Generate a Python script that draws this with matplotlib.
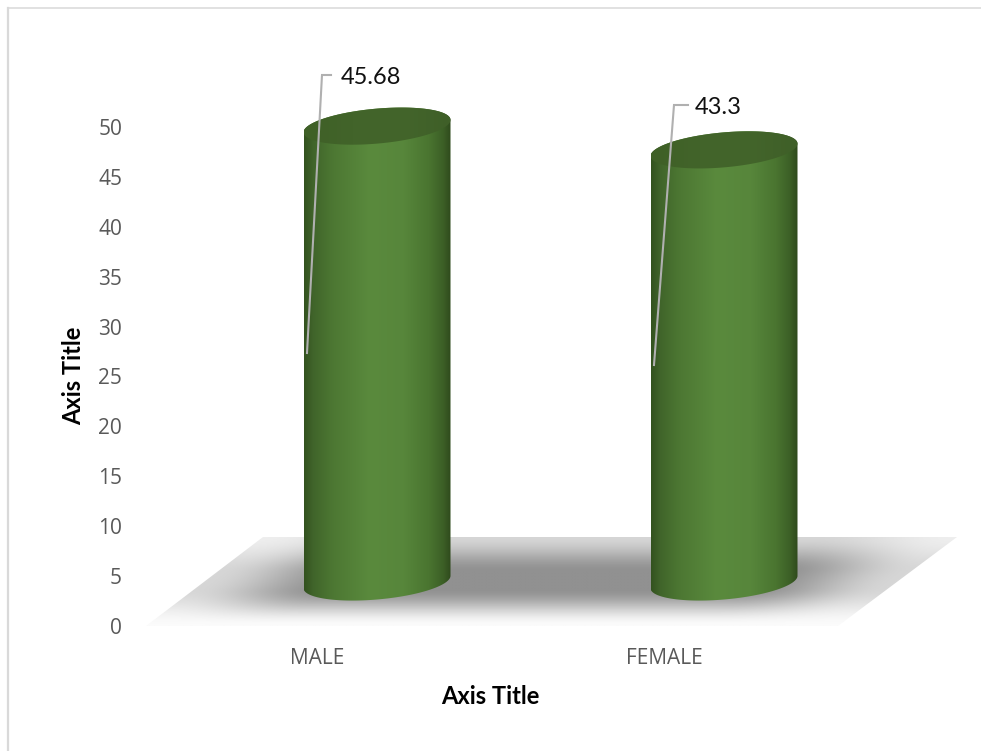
import numpy as np
import matplotlib
matplotlib.use("Agg")
import matplotlib.pyplot as plt
from matplotlib.colors import LinearSegmentedColormap
from matplotlib.patches import Polygon

categories = ["MALE", "FEMALE"]
values = [45.68, 43.3]
y_ticks = [0, 5, 10, 15, 20, 25, 30, 35, 40, 45, 50]

W, H = 981, 751
plt.rcParams['font.family'] = ['Open Sans', 'DejaVu Sans']

fig = plt.figure(figsize=(W / 100, H / 100), dpi=100)

# axes runs from pixel y=626 (value 0) up to y=127 (value 50), one category = 347 px
left, right = 317, 664
ax = fig.add_axes([0, 0, 1, 1])
px_y = 499 / 50
for s in ax.spines.values():
    s.set_visible(False)

dx = 1 / (right - left)
dy = 1 / px_y


def shaded(poly, grad, extent, zorder, cmap_colors):
    patch = Polygon(poly, closed=True, transform=ax.transData, fc="none", ec="none")
    ax.add_patch(patch)
    cmap = LinearSegmentedColormap.from_list("c", cmap_colors)
    im = ax.imshow(grad, extent=extent, origin="lower", aspect="auto", cmap=cmap,
                   vmin=0, vmax=1, zorder=zorder, interpolation="bilinear")
    im.set_clip_path(patch)


def smooth(a):
    a = np.clip(a, 0, 1)
    return a * a * (3 - 2 * a)


# floor
fshift = 117
fwidth = 694
nx, ny = 600, 150
gx = np.linspace(146, 957, nx)
gy = np.linspace(0, 1, ny)  # 0 = bottom of floor, 1 = back
X, V = np.meshgrid(gx, gy)
U = (X - (146 + fshift * V)) / fwidth
eu = 0.35 + 0.65 * smooth(np.minimum(U, 1 - U) / 0.2)
ev = smooth(V / 0.42) * (0.35 + 0.65 * smooth((1 - V) / 0.4))
shade = eu * ev
xa = (np.array([146, 838, 957, 263]) - left) * dx
ya = (626 - np.array([626, 626, 537, 537])) * dy
shaded(np.column_stack([xa, ya]), shade,
       [(146 - left) * dx, (957 - left) * dx, 0, (626 - 537) * dy], 1,
       ["#fbfbfb", "#919191"])

# cylinders
half_w = 73.5 * dx
tilt = -6.2 * dy    # rise of the ellipse from centre to its right end
semi = 17.5 * dy
base = (626 - 582) * dy
x_off = 60 * dx
t = np.linspace(0, 2 * np.pi, 200)
body_colors = [(0, "#33521f"), (0.06, "#40642a"), (0.2, "#4d7833"), (0.45, "#5a8a3d"),
               (0.68, "#57863b"), (0.85, "#4a7530"), (0.95, "#3c5f26"), (1, "#2f4a1c")]
top_colors = ["#3f6027", "#42642a", "#43652b", "#3f5f28"]
for i, v in enumerate(values):
    cx = i + x_off
    top = base + v
    ex = cx + half_w * np.cos(t)
    offs = -tilt * np.cos(t) + semi * np.sin(t)
    # body outline: lower half of base ellipse, upper half of top ellipse
    lower = t[t >= np.pi]
    xs_low = cx + half_w * np.cos(lower)
    ys_low = base - tilt * np.cos(lower) + semi * np.sin(lower)
    upper = t[t <= np.pi]
    xs_up = cx + half_w * np.cos(upper)
    ys_up = top - tilt * np.cos(upper) + semi * np.sin(upper)
    outline = np.column_stack([np.r_[xs_low, xs_up], np.r_[ys_low, ys_up]])
    g = np.linspace(0, 1, 256)[None, :]
    shaded(outline, g, [cx - half_w, cx + half_w, base - 30 * dy, top + 30 * dy], 3, body_colors)
    shaded(np.column_stack([ex, top + offs]), g,
           [cx - half_w, cx + half_w, top - 30 * dy, top + 30 * dy], 4, top_colors)

# data labels with leader lines
leaders = [((307, 353), (322, 75), (331, 75), (341, 78)),
           ((654, 365), (674, 105), (688, 105), (695, 108))]
for i, v in enumerate(values):
    p0, p1, p2, lab = leaders[i]
    lx = [(p[0] - left) * dx for p in (p0, p1, p2)]
    ly = [(626 - p[1]) * dy for p in (p0, p1, p2)]
    ax.plot(lx, ly, color="#b0b0b0", lw=1.5, zorder=5, solid_joinstyle="miter")
    ax.text((lab[0] - left) * dx, (626 - lab[1]) * dy, f"{v:g}", fontsize=17,
            family="Lato", color="#111111", va="center", ha="left", zorder=6)

ax.set_xticks(range(len(categories)), categories)
ax.set_yticks(y_ticks)
ax.tick_params(axis="both", length=0, labelcolor="#595959", labelsize=15)
for lab_t in ax.get_xticklabels():
    lab_t.set_y((626 - 659) * dy)
    lab_t.set_verticalalignment("center")
    lab_t.set_transform(ax.transData)
for lab_t in ax.get_yticklabels():
    lab_t.set_x((122 - left) * dx)
    lab_t.set_horizontalalignment("right")
    lab_t.set_transform(ax.transData)

ax.text((490 - left) * dx, (626 - 697) * dy, "Axis Title", fontsize=17, fontweight="bold",
        family="Lato", color="black", ha="center", va="center")
ax.text((74 - left) * dx, (626 - 376) * dy, "Axis Title", fontsize=17, fontweight="bold",
        family="Lato", color="black", ha="center", va="center", rotation=90)

# chart frame: only the top and left edges show in the crop
fig.add_artist(plt.Line2D([7.5 / W, 1], [1 - 7.5 / H, 1 - 7.5 / H], transform=fig.transFigure,
                          color="#dcdcdc", lw=1.2))
fig.add_artist(plt.Line2D([8 / W, 8 / W], [0, 1 - 7.5 / H], transform=fig.transFigure,
                          color="#d9d9d9", lw=1.6))

ax.set_xlim(-left / (right - left), (W - left) / (right - left))
ax.set_ylim(-(H - 626) / px_y, 626 / px_y)
fig.savefig("out.png", dpi=100)
